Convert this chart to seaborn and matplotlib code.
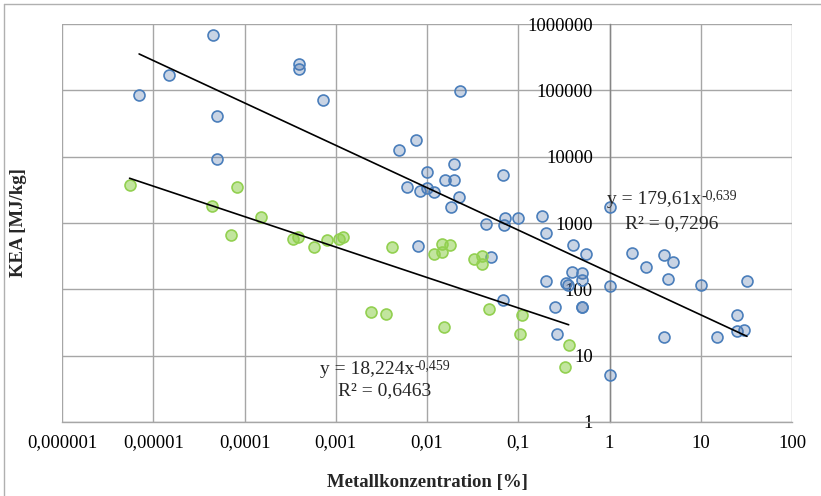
import numpy as np
import pandas as pd
import matplotlib
matplotlib.use("Agg")
import matplotlib.pyplot as plt
from matplotlib.lines import Line2D
from matplotlib.ticker import FixedLocator, FixedFormatter, NullLocator
import seaborn as sns

# Series 1 (blue): metal concentration [%] and KEA [MJ/kg]
blue_x = [4.49e-5, 1.5e-5, 7.0e-6, 3.95e-4, 3.95e-4, 7.3e-4, 5.0e-5, 5.0e-5,
          0.023, 7.56e-3, 4.96e-3, 0.0199, 9.93e-3, 0.0686, 6.0e-3, 0.0159,
          0.0199, 8.37e-3, 0.0101, 0.0118, 0.0226, 0.0185, 0.044, 0.0712,
          0.0694, 0.100, 0.182, 0.201, 0.398, 0.552, 8.04e-3, 0.0502,
          0.384, 0.5, 0.201, 0.333, 0.347, 0.5, 1.0, 1.0,
          0.0686, 0.255, 0.5, 0.5, 0.266, 1.0, 1.75, 2.49,
          3.99, 5.0, 4.38, 10.0, 32.1, 3.99, 15.0, 24.9, 24.9, 30.0]
blue_y = [676000, 168700, 85100, 247000, 207600, 72300, 41500, 9125,
          96800, 17660, 12740, 7760, 5875, 5295, 3527, 4450,
          4450, 3040, 3337, 2904, 2494, 1742, 966, 1202,
          923, 1178, 1289, 714, 466, 341, 445, 304,
          184.5, 178, 132, 126, 118, 138, 1726, 113.5,
          69, 54.7, 54.7, 54.7, 21.0, 5.11, 349, 219,
          326, 256, 145, 116, 133.6, 19.3, 19.3, 41.5, 23.3, 24.1]

# Series 2 (green)
green_x = [5.5e-6, 4.4e-5, 8.3e-5, 1.5e-4, 7.1e-5, 3.4e-4, 3.9e-4, 5.8e-4,
           8.1e-4, 1.09e-3, 1.21e-3, 4.1e-3, 0.0146, 0.018, 0.0118, 0.0147,
           0.0325, 0.040, 0.040, 2.45e-3, 3.56e-3, 0.0155, 0.048, 0.110,
           0.105, 0.357, 0.328]
green_y = [3680, 1790, 3450, 1220, 660, 568, 615, 435,
           549, 580, 615, 430, 488, 461, 341, 366,
           287, 321, 239, 46, 43, 26.8, 51, 41,
           21.4, 14.6, 6.75]

# Power-law trend lines y = a * x^b, with R²
blue_fit = (179.61, -0.639, 0.7296)
green_fit = (18.224, -0.459, 0.6463)

x_ticks = [1e-6, 1e-5, 1e-4, 1e-3, 1e-2, 1e-1, 1, 10, 100]
x_tick_labels = ["0,000001", "0,00001", "0,0001", "0,001", "0,01", "0,1", "1", "10", "100"]
y_ticks = [1, 10, 100, 1000, 10000, 100000, 1000000]
y_tick_labels = ["1", "10", "100", "1000", "10000", "100000", "1000000"]

sns.set_theme(style="white")
plt.rcParams["font.family"] = ["Liberation Serif", "DejaVu Serif"]

fig = plt.figure(figsize=(8.21, 4.96), dpi=100)
W, H = 821, 496
ax = fig.add_axes([62 / W, 1 - 422 / H, (792 - 62) / W, (422 - 24) / H])

df_blue = pd.DataFrame({"x": blue_x, "y": blue_y})
df_green = pd.DataFrame({"x": green_x, "y": green_y})

grid_col = "#a6a6a6"
ax.set_xscale("log")
ax.set_yscale("log")
ax.set_xlim(1e-6, 100)
ax.set_ylim(1, 1e6)

# gridlines
for xv in x_ticks:
    ax.axvline(xv, color=grid_col, lw=1.0, zorder=0)
for yv in y_ticks:
    ax.axhline(yv, color=grid_col, lw=1.0, zorder=0)

sns.scatterplot(data=df_blue, x="x", y="y", ax=ax, s=62,
                color=(0.31, 0.45, 0.66, 0.30), edgecolor="#4a7ebb",
                linewidth=1.2, zorder=3, legend=False)
sns.scatterplot(data=df_green, x="x", y="y", ax=ax, s=62,
                color=(0.57, 0.82, 0.31, 0.55), edgecolor="#92d050",
                linewidth=1.2, zorder=4, legend=False)

# trend lines over each series' x range
for xs, (a, b, _) in ((blue_x, blue_fit), (green_x, green_fit)):
    xx = np.logspace(np.log10(min(xs)), np.log10(max(xs)), 50)
    sns.lineplot(x=xx, y=a * xx ** b, ax=ax, color="black", lw=1.2, zorder=5)

# axes styling: vertical axis crosses at x = 1
for s in ("top", "right"):
    ax.spines[s].set_visible(False)
ax.spines["left"].set_position(("data", 1))
ax.spines["left"].set_color("#868686")
ax.spines["bottom"].set_color(grid_col)
ax.spines["left"].set_linewidth(1.0)
ax.spines["bottom"].set_linewidth(1.0)
ax.spines["left"].set_zorder(1)
ax.spines["bottom"].set_zorder(1)

ax.xaxis.set_major_locator(FixedLocator(x_ticks))
ax.xaxis.set_major_formatter(FixedFormatter(x_tick_labels))
ax.xaxis.set_minor_locator(NullLocator())
ax.yaxis.set_major_locator(FixedLocator(y_ticks))
ax.yaxis.set_major_formatter(FixedFormatter(y_tick_labels))
ax.yaxis.set_minor_locator(NullLocator())
ax.tick_params(axis="x", direction="out", length=4, width=1, color=grid_col,
               pad=5, labelsize=13.5, labelcolor="black")
ax.tick_params(axis="y", direction="out", length=4, width=1, color="#868686",
               pad=8, labelsize=13.5, labelcolor="black")
ax.grid(False)

ax.set_xlabel("Metallkonzentration [%]", fontsize=13.5, fontweight="bold", va="center")
ax.xaxis.set_label_coords(0.5, (422 - 482) / 398)
ax.set_ylabel("KEA [MJ/kg]", fontsize=13.5, fontweight="bold", va="center")
ax.yaxis.set_label_coords((18 - 62) / 730, 0.5)


def de_num(v):
    return f"{v:g}".replace(".", ",")


def equation(xf, yf, a, b):
    main = ax.text(xf, yf, f"y = {de_num(a)}x", transform=ax.transAxes,
                   fontsize=14, ha="left", va="baseline", zorder=6)
    ax.annotate(de_num(b), xy=(1.0, 1.0), xycoords=main,
                xytext=(0.5, 1.5), textcoords="offset points",
                fontsize=10, ha="left", va="top", zorder=6)


def r_squared(xf, yf, r2):
    ax.text(xf, yf, "R² = " + de_num(r2), transform=ax.transAxes,
            fontsize=14, ha="left", va="baseline", zorder=6)


equation((607 - 62) / 730, (422 - 204) / 398, *blue_fit[:2])
r_squared((625 - 62) / 730, (422 - 228) / 398, blue_fit[2])
equation((320 - 62) / 730, (422 - 374) / 398, *green_fit[:2])
r_squared((338 - 62) / 730, (422 - 395) / 398, green_fit[2])

# outer chart frame
frame_col = "#b0b0b0"
fig.add_artist(Line2D([3.5 / W, 3.5 / W], [0, 1 - 3.5 / H], transform=fig.transFigure,
                      color=frame_col, lw=1.0))
fig.add_artist(Line2D([3.5 / W, 1], [1 - 3.5 / H, 1 - 3.5 / H], transform=fig.transFigure,
                      color=frame_col, lw=1.0))

fig.savefig("out.png", dpi=100)
